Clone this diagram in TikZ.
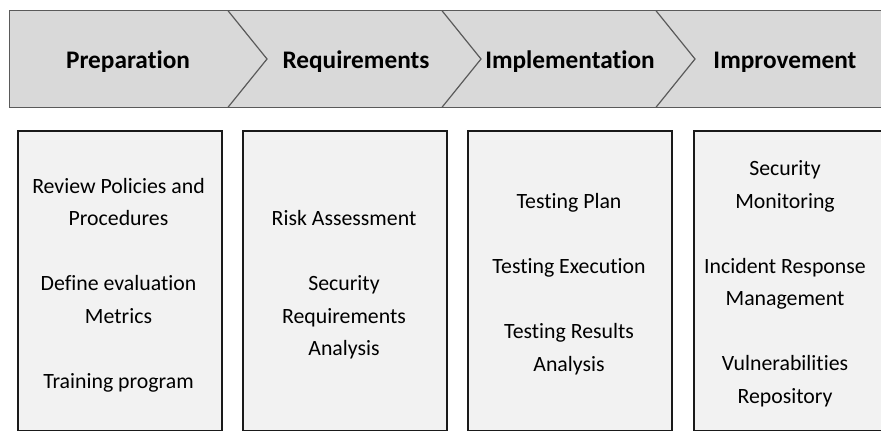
\documentclass[tikz,border=0pt]{standalone}
\usepackage{fontspec}
\setmainfont[Ligatures=NoCommon]{Carlito}
\definecolor{bandfill}{HTML}{D9D9D9}
\definecolor{bandline}{HTML}{5A5A5A}
\definecolor{boxfill}{HTML}{F2F2F2}
\definecolor{boxline}{HTML}{1A1A1A}
\tikzset{
  phase/.style={font=\bfseries\fontsize{25.3}{30}\selectfont, text=black, inner sep=0pt, anchor=base},
  stepbox/.style={draw=boxline, fill=boxfill, line width=1.5pt, minimum width=204pt,
    minimum height=300pt, anchor=north west, inner sep=0pt},
  steptext/.style={align=center, font=\fontsize{21.8}{32.5}\selectfont, text=black, inner sep=0pt},
}
\begin{document}
\begin{tikzpicture}[x=1pt, y=-1pt]
  \useasboundingbox (0,0) rectangle (881,431);
  \clip (0,0) rectangle (881,431);

  % process band with chevron separators
  \draw[bandline, fill=bandfill, line width=1.5pt] (9.5,10.7) rectangle (895,107.3);
  \foreach \cx in {228,442,656}{
    \draw[bandline, line width=1.2pt] (\cx,10.7) -- (\cx+39,59) -- (\cx,107.3);
  }

  \node[phase] (h1) at (128,68) {Preparation};
  \node[phase] (h2) at (356,68) {Requirements};
  \node[phase] (h3) at (570,68) {Implementation};
  \node[phase] (h4) at (785,68) {Improvement};

  % activity boxes
  \node[stepbox] (b1) at (17,130) {};
  \node[stepbox] (b2) at (242,130) {};
  \node[stepbox] (b3) at (467,130) {};
  \node[stepbox] (b4) at (693,130) {};

  \node[steptext] (t1) at (118.5,285) {Review Policies and\\Procedures\\[32.5pt]Define evaluation\\Metrics\\[32.5pt]Training program};
  \node[steptext] (t2) at (344,285) {Risk Assessment\\[32.5pt]Security\\Requirements\\Analysis};
  \node[steptext] (t3) at (569,284) {Testing Plan\\[32.5pt]Testing Execution\\[32.5pt]Testing Results\\Analysis};
  \node[steptext] (t4) at (785,284) {Security\\Monitoring\\[32.5pt]Incident Response\\Management\\[32.5pt]Vulnerabilities\\Repository};
\end{tikzpicture}
\end{document}
